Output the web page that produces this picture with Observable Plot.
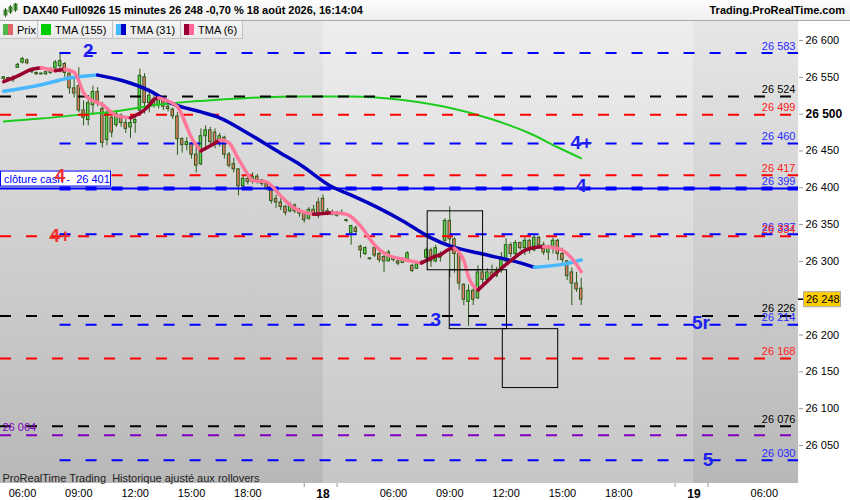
<!DOCTYPE html>
<html><head><meta charset="utf-8">
<script src="https://cdn.jsdelivr.net/npm/d3@7"></script>
<script src="https://cdn.jsdelivr.net/npm/@observablehq/plot@0.6"></script>
<style>
body{margin:0;background:#fff;font-family:"Liberation Sans",Arial,sans-serif;}
#wrap{position:relative;width:850px;height:500px;overflow:hidden;background:#fff;}
#hdr{position:absolute;left:0;top:0;width:850px;height:20px;background:linear-gradient(#fdfdfd,#efefef);border-bottom:1px solid #a9a9a9;}
#hdr .t{position:absolute;left:23px;top:4px;font-weight:bold;font-size:11px;color:#000;white-space:pre;}
#hdr .r{position:absolute;right:5px;top:4px;font-weight:bold;font-size:11px;color:#000;}
#hdr svg{position:absolute;left:3px;top:3px;}
#chart{position:absolute;left:0;top:21px;}
#legend{position:absolute;left:0;top:21px;height:18px;display:flex;}
.tab{height:18px;background:linear-gradient(#f6f6f6,#e9e9e9);border-right:1px solid #c2c2c2;border-bottom:1px solid #c2c2c2;display:flex;align-items:center;font-size:11px;padding:0 0 0 3px;box-sizing:border-box;color:#000;}
.sw{width:10px;height:11px;margin-right:4px;display:flex;}
.sw span{flex:1;}
</style></head>
<body><div id="wrap">
<div id="hdr">
<svg width="16" height="14"><rect x="1" y="7" width="3" height="5" fill="#55bb55" stroke="#2a6a1a" stroke-width="0.8"/><line x1="2.5" y1="5" x2="2.5" y2="14" stroke="#2a6a1a"/><rect x="6" y="4" width="3" height="5" fill="#55bb55" stroke="#2a6a1a" stroke-width="0.8"/><line x1="7.5" y1="2" x2="7.5" y2="11" stroke="#2a6a1a"/><rect x="11" y="1" width="3" height="6" fill="#55bb55" stroke="#2a6a1a" stroke-width="0.8"/><line x1="12.5" y1="0" x2="12.5" y2="9" stroke="#2a6a1a"/></svg>
<div class="t">DAX40 Full0926 15 minutes 26 248 -0,70 % 18 août 2026, 16:14:04</div>
<div class="r">Trading.ProRealTime.com</div>
</div>
<div id="chart"></div>
<div id="legend">
<div class="tab" style="width:38px"><div class="sw"><span style="background:#4cb84c"></span><span style="background:#e06666"></span></div>Prix</div>
<div class="tab" style="width:75px"><div class="sw"><span style="background:#00cc00"></span></div>TMA (155)</div>
<div class="tab" style="width:68px"><div class="sw"><span style="background:#44bbff"></span><span style="background:#0000cc"></span></div>TMA (31)</div>
<div class="tab" style="width:62px"><div class="sw"><span style="background:#990033"></span><span style="background:#ff6699"></span></div>TMA (6)</div>
</div>
</div>
<script>
// ---------- DATA ----------
// 15-minute bars, index 0 = 17 Aug 06:00
const firstBar = -4;
const opens  = [26548,26549,26548,26563,26570,26573,26560,26556,26555,26554,26556,26562,26565,26568,26555,26535,26538,26505,26492,26512,26530,26507,26465,26495,26485,26498,26488,26482,26488,26505,26550,26515,26520,26512,26520,26510,26506,26497,26466,26458,26460,26445,26432,26470,26478,26475,26462,26468,26445,26432,26425,26402,26412,26408,26415,26410,26405,26400,26385,26380,26374,26368,26376,26368,26365,26358,26370,26380,26385,26368,26366,26364,26364,26356,26338,26345,26320,26310,26303,26318,26310,26306,26300,26305,26300,26298,26300,26294,26290,26296,26305,26315,26300,26310,26328,26355,26330,26310,26268,26245,26260,26250,26285,26275,26285,26280,26288,26300,26322,26310,26325,26318,26328,26315,26332,26322,26312,26318,26328,26310,26300,26285,26270,26263];
const highs  = [26551,26550,26552,26569,26577,26575,26561,26557,26556,26558,26563,26573,26583,26570,26556,26550,26563,26518,26525,26538,26536,26516,26508,26497,26505,26500,26495,26494,26496,26561,26555,26534,26525,26525,26522,26515,26508,26502,26468,26468,26461,26456,26480,26484,26482,26480,26474,26470,26448,26440,26426,26417,26416,26420,26418,26411,26407,26401,26390,26385,26376,26380,26378,26372,26366,26373,26376,26386,26390,26372,26370,26368,26370,26357,26349,26348,26322,26320,26305,26320,26312,26310,26315,26306,26302,26305,26313,26296,26298,26301,26318,26318,26322,26313,26358,26374,26332,26318,26270,26268,26263,26294,26290,26290,26295,26292,26312,26331,26325,26328,26326,26332,26330,26336,26334,26326,26322,26332,26330,26318,26301,26291,26285,26277];
const lows   = [26546,26547,26543,26562,26568,26567,26555,26553,26553,26553,26554,26561,26556,26550,26527,26522,26502,26484,26484,26498,26510,26454,26457,26468,26482,26482,26474,26467,26474,26500,26500,26502,26508,26507,26505,26503,26493,26444,26447,26450,26439,26420,26430,26450,26457,26453,26455,26439,26427,26420,26389,26400,26404,26405,26405,26402,26396,26378,26372,26369,26362,26366,26365,26360,26352,26356,26362,26358,26365,26362,26362,26360,26362,26353,26322,26335,26304,26308,26302,26305,26298,26285,26300,26299,26294,26297,26299,26285,26289,26295,26303,26292,26298,26299,26325,26278,26284,26261,26240,26212,26240,26248,26267,26272,26277,26278,26284,26295,26305,26308,26315,26308,26310,26313,26318,26308,26301,26310,26301,26298,26274,26240,26258,26240];
const closes = [26550,26548,26546,26567,26575,26569,26557,26554,26554,26557,26561,26570,26572,26556,26535,26528,26505,26495,26515,26530,26515,26461,26500,26475,26500,26488,26480,26488,26492,26552,26515,26525,26512,26520,26510,26507,26497,26466,26458,26462,26445,26430,26470,26478,26462,26460,26470,26445,26430,26425,26402,26412,26408,26415,26410,26405,26400,26382,26380,26374,26366,26376,26368,26365,26356,26370,26365,26362,26368,26366,26364,26362,26366,26355,26348,26340,26315,26318,26304,26308,26302,26300,26312,26302,26297,26302,26311,26287,26296,26299,26315,26300,26318,26305,26355,26330,26310,26270,26248,26260,26248,26285,26275,26285,26280,26288,26305,26322,26310,26325,26318,26328,26315,26332,26322,26312,26318,26328,26310,26302,26280,26270,26262,26248];

// Moving averages, read at sample bars
const tma155Bars = [-4, 4, 12, 20, 28, 38, 48, 60, 70, 80, 90, 100, 108, 114, 119];
const tma155Vals = [26490, 26494, 26499, 26504, 26512, 26518, 26522, 26524, 26524, 26520, 26510, 26493, 26474, 26455, 26440];
const tma31Bars = [-4, 4, 10, 16, 21, 27, 32, 38, 42, 48, 55, 59, 66, 70, 76, 81, 87, 91, 98, 106, 109, 115, 119];
const tma31Vals = [26531, 26540, 26549, 26553, 26546, 26532, 26514, 26503, 26495, 26474, 26447, 26432, 26401, 26390, 26372, 26355, 26332, 26321, 26310, 26298, 26292, 26296, 26302];
const tma6Bars = [-4, -1, 2, 4, 7, 8, 9, 11, 12, 13, 15, 17, 19, 20, 23, 26, 27, 28, 29, 30, 33, 34, 36, 38, 40, 42, 43, 44, 46, 48, 49, 52, 53, 55, 58, 59, 62, 64, 66, 69, 71, 73, 74, 76, 78, 81, 84, 85, 88, 89, 91, 92, 94, 95, 97, 98, 101, 104, 107, 109, 111, 113, 115, 117, 119];
const tma6Vals = [26544, 26552, 26561, 26563, 26559, 26560, 26561, 26557, 26545, 26529, 26518, 26513, 26502, 26498, 26495, 26506, 26512, 26520, 26522, 26520, 26510, 26498, 26468, 26450, 26457, 26465, 26464, 26461, 26439, 26418, 26410, 26408, 26403, 26389, 26372, 26369, 26364, 26365, 26366, 26364, 26355, 26340, 26330, 26316, 26308, 26303, 26299, 26298, 26307, 26309, 26317, 26318, 26301, 26279, 26261, 26267, 26285, 26301, 26315, 26319, 26320, 26319, 26315, 26304, 26286];

// Horizontal levels
const levelValues = [26583, 26524, 26499, 26460, 26417, 26399, 26337, 26334, 26226, 26214, 26168, 26076, 26064, 26030];
const levelGroup  = ["B", "K", "R", "B", "R", "B", "B", "R", "K", "B", "R", "K", "P", "B"];
const clotureCash = 26401;

// Wave labels
const waveTexts  = ["2", "4", "4+", "4+", "4", "3", "5r", "5"];
const waveBars   = [14, 8, 8, 119, 119, 88, 144.5, 146];
const wavePrices = [26586, 26416, 26334, 26461, 26402, 26220, 26216, 26030];
const waveGroup  = ["B", "R", "R", "B", "B", "B", "B", "B"];

// Boxes (bar range, price range)
const boxBar1 = [86.3, 91.0, 102.3];
const boxBar2 = [98.1, 103.2, 114.1];
const boxTop  = [26368, 26288, 26208];
const boxBot  = [26288, 26208, 26128];

// Sessions (bar ranges)
const sessionStart = [-4.69, 64.1, 142.9];
const sessionEnd   = [64.1, 142.9, 165.3];
const sessionShade = ["dark", "light", "dark"];

// Axis ticks (26 250 is hidden behind the last-price tag)
const yTicks = [26050, 26100, 26150, 26200, 26300, 26350, 26400, 26450, 26500, 26550, 26600];
const xTickBars = [0, 12, 24, 36, 48, 64, 79, 91, 103, 115, 127, 143, 158];
const xTickLabels = ["06:00", "09:00", "12:00", "15:00", "18:00", "18", "06:00", "09:00", "12:00", "15:00", "18:00", "19", "06:00"];
const xMinorBars = [60, 67, 139, 146];
const lastPrice = 26248;

// ---------- STYLE ----------
const FONT = '"Liberation Sans", Arial, sans-serif';
const lineColor = {B: "#0000ff", K: "#000000", R: "#ff0000", P: "#8000c0"};
const textColor = {B: "#2a2aff", K: "#000000", R: "#ff2020", P: "#8000c0"};
const waveColor = {B: "#1e1ef0", R: "#ee3030"};
const waveColumnStart = new Set([26583, 26460, 26417, 26399, 26337, 26214, 26030]);
const wickColor = "#2a5c16", upFill = "#5ad84e", downFill = "#ec7a6c";
const xDomain = [-4.686, 165.28];
const yDomain = [25998.4, 26625.8];
const fmt = v => { const s = String(Math.round(v)); return s.slice(0, s.length - 3) + " " + s.slice(-3); };

// ---------- BUILD ----------
const candles = opens.map((o, k) => ({i: firstBar + k, o, h: highs[k], l: lows[k], c: closes[k]}));
function runs(bars, vals) {
  const out = []; let run = 0, prevUp = null;
  for (let k = 0; k < bars.length - 1; k++) {
    const up = vals[k + 1] >= vals[k];
    if (up !== prevUp) { run++; out.push({b: bars[k], v: vals[k], run, up}); prevUp = up; }
    out.push({b: bars[k + 1], v: vals[k + 1], run, up});
  }
  return out;
}
const tma155 = tma155Bars.map((b, k) => ({b, v: tma155Vals[k]}));
const tma31 = runs(tma31Bars, tma31Vals);
const tma6 = runs(tma6Bars, tma6Vals);
const levels = levelValues.map((v, k) => ({v, g: levelGroup[k]}));
const levelsFromLeft = levels.filter(d => !waveColumnStart.has(d.v));
const levelsFromCol = levels.filter(d => waveColumnStart.has(d.v));
const waves = waveTexts.map((t, k) => ({t, b: waveBars[k], p: wavePrices[k], g: waveGroup[k]}));
const boxes = boxBar1.map((b1, k) => ({b1, b2: boxBar2[k], p1: boxTop[k], p2: boxBot[k]}));
const sessions = sessionStart.map((s, k) => ({x1: s, x2: sessionEnd[k], shade: sessionShade[k]}));

const defsMark = () => {
  const defs = d3.create("svg:defs");
  const mk = (id, top, bot) => {
    const g = defs.append("linearGradient").attr("id", id).attr("x1", 0).attr("y1", 0).attr("x2", 0).attr("y2", 1);
    g.append("stop").attr("offset", "0%").attr("stop-color", top);
    g.append("stop").attr("offset", "100%").attr("stop-color", bot);
  };
  mk("bgDark", "#e6e6e6", "#b8b8b8");
  mk("bgLight", "#eeeeee", "#c6c6c6");
  return defs.node();
};

const clotureMark = (index, scales) => {
  const y = scales.y(clotureCash);
  const g = d3.create("svg:g");
  g.append("rect").attr("x", 0.5).attr("y", y - 15.5).attr("width", 110).attr("height", 15).attr("fill", "#fff").attr("stroke", "#0000ff");
  g.append("text").attr("x", 4).attr("y", y - 4).attr("text-anchor", "start").attr("fill", "#0000ff").attr("font-size", 11).attr("font-family", FONT)
    .style("white-space", "pre").text("clôture cash -  " + fmt(clotureCash));
  return g.node();
};

const priceTagMark = (index, scales, values, dims) => {
  const y = scales.y(lastPrice);
  const x0 = dims.width - dims.marginRight;
  const g = d3.create("svg:g");
  g.append("line").attr("x1", x0).attr("x2", x0 + 6).attr("y1", y).attr("y2", y).attr("stroke", "#000").attr("stroke-width", 1.5);
  g.append("rect").attr("x", x0 + 5.5).attr("y", y - 7.5).attr("width", 37).attr("height", 15).attr("fill", "#ffcc00").attr("stroke", "#aaaaaa");
  g.append("text").attr("x", x0 + 8).attr("y", y + 4).attr("text-anchor", "start").attr("fill", "#000").attr("font-size", 11).attr("font-family", FONT).text(fmt(lastPrice));
  return g.node();
};

const plot = Plot.plot({
  width: 850, height: 479,
  marginLeft: 0, marginRight: 52, marginTop: 0, marginBottom: 17,
  x: {domain: xDomain, axis: null},
  y: {domain: yDomain, axis: null},
  style: {fontFamily: FONT, fontSize: "11px", background: "#fff", overflow: "visible"},
  marks: [
    defsMark,
    Plot.rect(sessions.filter(d => d.shade === "dark"), {x1: "x1", x2: "x2", fill: "url(#bgDark)"}),
    Plot.rect(sessions.filter(d => d.shade === "light"), {x1: "x1", x2: "x2", fill: "url(#bgLight)"}),
    // candles
    Plot.ruleX(candles, {x: "i", y1: "l", y2: "h", stroke: wickColor, strokeWidth: 1}),
    Plot.rect(candles, {x1: d => d.i - 0.27, x2: d => d.i + 0.27, y1: "o", y2: "c", fill: d => d.c >= d.o ? upFill : downFill, stroke: wickColor, strokeWidth: 1}),
    // TMA 155
    Plot.line(tma155, {x: "b", y: "v", stroke: "#1ccc1c", strokeWidth: 2, curve: "monotone-x"}),
    // levels
    Plot.ruleY(levelsFromLeft, {y: "v", x1: xDomain[0], x2: xDomain[1], stroke: d => lineColor[d.g], strokeWidth: 2, strokeDasharray: "11,15"}),
    Plot.ruleY(levelsFromCol.filter(d => d.v === 26399), {y: "v", x1: xDomain[0], x2: xDomain[1], stroke: "#0000ff", strokeWidth: 2}),
    Plot.ruleY(levelsFromCol, {y: "v", x1: waveBars[1], x2: xDomain[1], stroke: d => lineColor[d.g], strokeWidth: d => d.v === 26399 ? 4 : 2, strokeDasharray: "11,15"}),
    // TMA 31
    Plot.line(tma31, {x: "b", y: "v", z: "run", stroke: d => d.up ? "#45b8ff" : "#0000c0", strokeWidth: 3.5, curve: "monotone-x"}),
    // TMA 6
    Plot.line(tma6, {x: "b", y: "v", z: "run", stroke: d => d.up ? "#99002e" : "#ff7799", strokeWidth: 3.5, curve: "monotone-x"}),
    // boxes
    Plot.rect(boxes, {x1: "b1", x2: "b2", y1: "p1", y2: "p2", fill: "none", stroke: "#000", strokeWidth: 1}),
    clotureMark,
    // level labels
    Plot.text(levels.filter(d => d.g !== "P"), {y: "v", frameAnchor: "right", textAnchor: "end", dx: -3, dy: -7, text: d => fmt(d.v), fill: d => textColor[d.g], fontSize: 11, fontWeight: d => d.v === 26524 ? "bold" : "normal"}),
    Plot.text(levels.filter(d => d.g === "P"), {y: "v", frameAnchor: "left", textAnchor: "start", dx: 2, dy: -8, text: d => fmt(d.v), fill: d => textColor[d.g], fontSize: 11}),
    // wave labels
    Plot.text(waves, {x: "b", y: "p", text: "t", fill: d => waveColor[d.g], fontSize: 19, fontWeight: "bold"}),
    Plot.text(["ProRealTime Trading\u00a0 Historique ajusté aux rollovers"], {frameAnchor: "bottom-left", textAnchor: "start", lineAnchor: "bottom", dx: 2, dy: -2, fill: "#222", fontSize: 11}),
    // axes
    Plot.axisY({anchor: "right", ticks: yTicks, tickFormat: fmt, tickSize: 4, tickPadding: 3, stroke: "#999", fill: "#000", fontSize: 11}),
    Plot.axisX({anchor: "bottom", ticks: xTickBars, tickFormat: (d) => xTickLabels[xTickBars.indexOf(d)], tickSize: 0, tickPadding: 6, fill: "#000", fontSize: 11}),
    Plot.axisX({anchor: "bottom", ticks: xMinorBars, tickFormat: () => "", tickSize: 4, stroke: "#999"}),
    priceTagMark
  ]
});

d3.select(plot).selectAll("text").each(function () {
  const t = this.textContent;
  if (t === "18" || t === "19") d3.select(this).attr("font-weight", "bold").attr("font-size", 12);
  if (t === "26 500" && this.closest("g") && this.closest("g").getAttribute("aria-label") === "y-axis tick label") d3.select(this).attr("font-weight", "bold").attr("font-size", 12);
});
document.getElementById("chart").appendChild(plot);
</script>
</body></html>
